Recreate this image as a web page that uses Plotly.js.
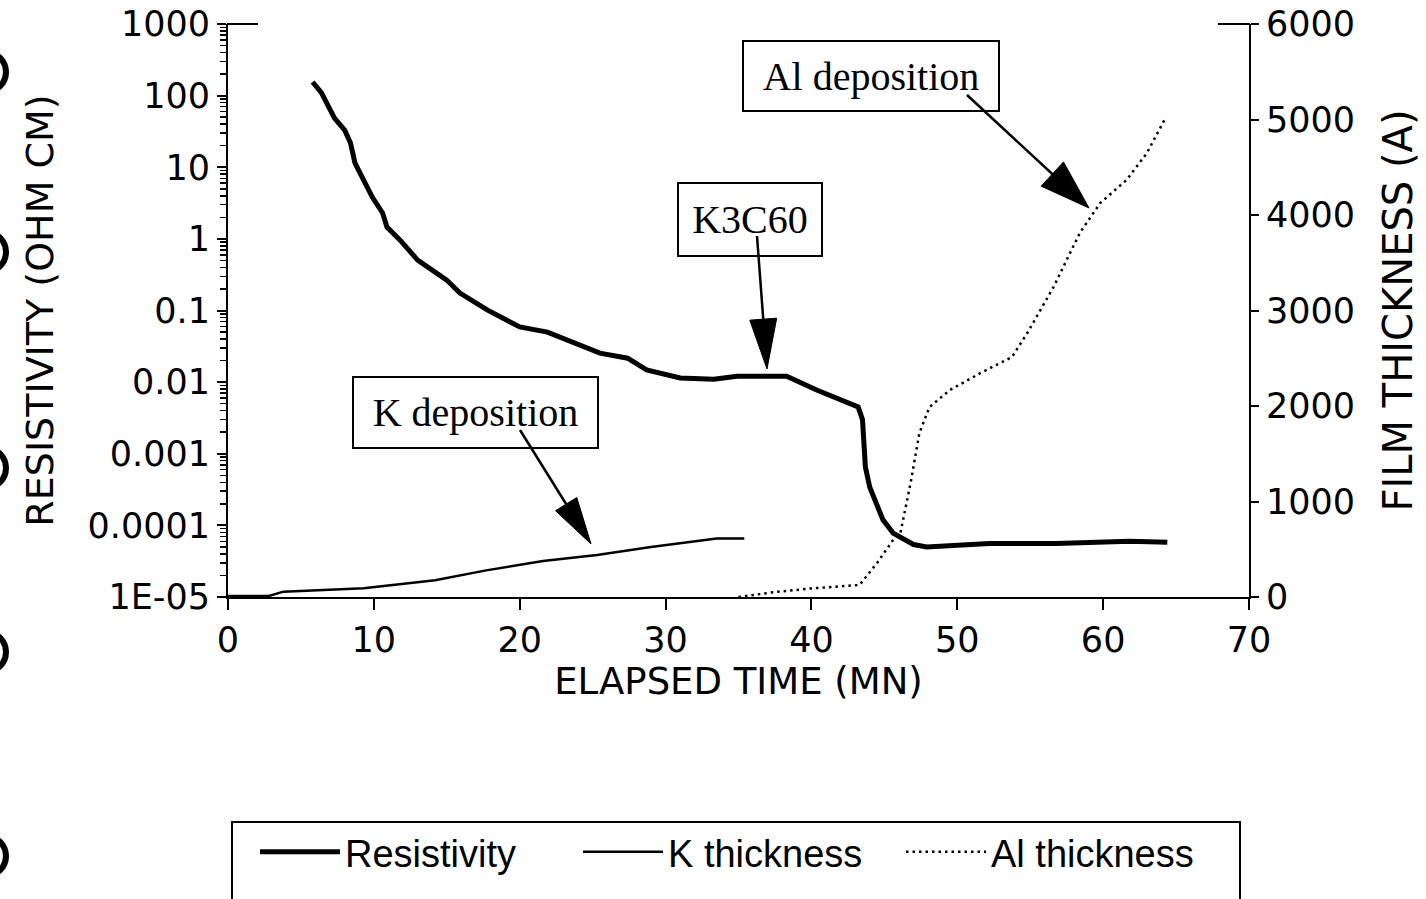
<!DOCTYPE html>
<html>
<head>
<meta charset="utf-8">
<script src="https://cdn.plot.ly/plotly-3.0.1.min.js"></script>
<style>html,body{margin:0;padding:0;background:#fff;}#chart{width:1426px;height:899px;}</style>
</head>
<body>
<div id="chart"></div>
<script>
// ---- data ----
const resTime = [5.8, 6.4, 7.3, 8.0, 8.4, 8.7, 9.3, 9.9, 10.6, 10.9, 11.8, 13.0, 15.0, 15.9, 17.8, 20.0, 21.9, 23.7, 25.5, 27.4, 28.7, 31.0, 33.3, 34.9, 38.3, 40.4, 43.2, 43.5, 43.7, 44.0, 44.9, 45.6, 47.0, 47.9, 52.2, 56.8, 61.8, 64.4];
const resistivity = [155, 110, 48.6, 33, 21.8, 11.5, 6.6, 3.8, 2.3, 1.46, 0.96, 0.506, 0.266, 0.175, 0.101, 0.059, 0.050, 0.036, 0.0254, 0.0216, 0.0148, 0.0114, 0.011, 0.0121, 0.0121, 0.0077, 0.0045, 0.003, 0.00065, 0.00034, 0.00012, 0.000078, 0.000054, 0.000050, 0.000056, 0.000056, 0.000060, 0.000058];

const kTime = [0, 2.8, 3.8, 9.3, 14.2, 17.7, 21.6, 25.3, 29.0, 31.5, 33.5, 35.4];
const kThickness = [10, 10, 56, 91, 175, 279, 377, 440, 523, 569, 612, 612];

const alTime = [35.0, 37.4, 40.0, 43.3, 44.5, 45.6, 46.1, 46.8, 47.4, 48.1, 49.5, 51.6, 53.75, 54.8, 56.6, 58.4, 59.8, 61.6, 63.0, 64.2];
const alThickness = [0, 50, 90, 126, 356, 597, 670, 1194, 1717, 1990, 2168, 2346, 2513, 2764, 3246, 3812, 4126, 4366, 4649, 4995];

const resTickVals = [1e-5, 1e-4, 1e-3, 1e-2, 0.1, 1, 10, 100, 1000];
const resTickText = ['1E-05', '0.0001', '0.001', '0.01', '0.1', '1', '10', '100', '1000'];
const seriesNames = ['Resistivity', 'K thickness', 'Al thickness'];

// ---- layout geometry ----
const W = 1426, H = 899;
const M = {l: 228, r: 177, t: 24, b: 302};
const PW = W - M.l - M.r, PH = H - M.t - M.b;
function px(x, y) { return [(x - M.l) / PW, (H - M.b - y) / PH]; }

const axisFont = {family: 'DejaVu Sans, Arial, sans-serif', size: 35, color: '#000'};
const serif = {family: 'Liberation Serif, Times New Roman, serif', size: 40, color: '#000'};

// arrows (line + long narrow filled head), pixel geometry
function arrow(tail, tip, len, wid) {
  const dx = tip[0] - tail[0], dy = tip[1] - tail[1];
  const d = Math.hypot(dx, dy), ux = dx / d, uy = dy / d;
  const bx = tip[0] - ux * len, by = tip[1] - uy * len;
  const nx = -uy, ny = ux;
  const a = px(bx + nx * wid / 2, by + ny * wid / 2);
  const b = px(bx - nx * wid / 2, by - ny * wid / 2);
  const t = px(tip[0], tip[1]);
  const s0 = px(tail[0], tail[1]);
  const s1 = px(bx + ux * 4, by + uy * 4);
  return [
    {type: 'line', xref: 'paper', yref: 'paper', x0: s0[0], y0: s0[1], x1: s1[0], y1: s1[1], line: {color: '#000', width: 2.5}},
    {type: 'path', xref: 'paper', yref: 'paper', path: `M ${a[0]} ${a[1]} L ${t[0]} ${t[1]} L ${b[0]} ${b[1]} Z`, fillcolor: '#000', line: {color: '#000', width: 1}}
  ];
}
function seg(x0, y0, x1, y1, w) {
  const a = px(x0, y0), b = px(x1, y1);
  return {type: 'line', xref: 'paper', yref: 'paper', x0: a[0], y0: a[1], x1: b[0], y1: b[1], line: {color: '#000', width: w}};
}

const shapes = [].concat(
  arrow([967, 95], [1089, 208], 50, 33),
  arrow([757, 236], [767, 369], 50, 27),
  arrow([520, 430], [591, 544], 47, 25)
);
// top end ticks of both vertical axes
shapes.push(seg(227, 24, 258, 24, 2));
shapes.push(seg(1218, 24, 1250, 24, 2));
shapes.push(seg(228, 597, 258, 597, 2));
// legend frame
const lf0 = px(232, 822), lf1 = px(1240, 940);
shapes.push({type: 'rect', xref: 'paper', yref: 'paper', x0: lf0[0], y0: lf0[1], x1: lf1[0], y1: lf1[1], line: {color: '#000', width: 2}});
// scan marks (binder holes) at the left edge of the page
[72, 252, 468, 652, 856].forEach(function (cy) {
  const a = px(-34, cy - 20), b = px(6, cy + 20);
  shapes.push({type: 'circle', xref: 'paper', yref: 'paper', x0: a[0], y0: a[1], x1: b[0], y1: b[1], line: {color: '#000', width: 6}});
});

const traces = [
  {x: resTime, y: resistivity, name: seriesNames[0], type: 'scatter', mode: 'lines', yaxis: 'y', line: {color: '#000', width: 5}},
  {x: kTime, y: kThickness, name: seriesNames[1], type: 'scatter', mode: 'lines', yaxis: 'y2', line: {color: '#000', width: 2.5}},
  {x: alTime, y: alThickness, name: seriesNames[2], type: 'scatter', mode: 'lines', yaxis: 'y2', line: {color: '#000', width: 2.5, dash: '2.5px,4px'}}
];

const annotations = [
  {xref: 'x', yref: 'y2', x: 44.08, y: 5455, text: 'Al deposition', showarrow: false, font: serif, bordercolor: '#000', borderwidth: 2, borderpad: 0, width: 254, height: 68},
  {xref: 'x', yref: 'y2', x: 35.79, y: 3948, text: 'K3C60', showarrow: false, font: serif, bordercolor: '#000', borderwidth: 2, borderpad: 0, width: 142, height: 71},
  {xref: 'x', yref: 'y2', x: 17.0, y: 1927, text: 'K deposition', showarrow: false, font: serif, bordercolor: '#000', borderwidth: 2, borderpad: 0, width: 243, height: 69}
];

const layout = {
  width: W, height: H,
  margin: M,
  paper_bgcolor: '#fff', plot_bgcolor: '#fff',
  showlegend: true,
  legend: {orientation: 'h', x: px(255, 0)[0], xanchor: 'left', y: px(0, 852)[1], yanchor: 'middle',
           font: {family: 'Liberation Sans, Arial, sans-serif', size: 38, color: '#000'},
           bgcolor: 'rgba(0,0,0,0)', borderwidth: 0, entrywidth: 228, entrywidthmode: 'pixels', itemwidth: 80},
  xaxis: {range: [0, 70], tickvals: [0, 10, 20, 30, 40, 50, 60, 70], ticks: 'outside', ticklen: 11, tickwidth: 2, tickcolor: '#000',
          showline: true, linewidth: 2, linecolor: '#000', showgrid: false, zeroline: false, tickfont: axisFont,
          title: {text: 'ELAPSED TIME (MN)', font: {family: 'DejaVu Sans, Arial, sans-serif', size: 37, color: '#000'}, standoff: 6}},
  yaxis: {type: 'log', range: [-5, 3], tickvals: resTickVals, ticktext: resTickText, ticks: 'outside', ticklen: 9, tickwidth: 2, tickcolor: '#000',
          minor: {ticks: 'outside', ticklen: 6, tickwidth: 1.5, tickcolor: '#000', dtick: 'D1', showgrid: false},
          showline: true, linewidth: 2, linecolor: '#000', showgrid: false, zeroline: false, tickfont: axisFont,
          title: {text: 'RESISTIVITY (OHM CM)', font: {family: 'DejaVu Sans, Arial, sans-serif', size: 38, color: '#000'}, standoff: 22}},
  yaxis2: {overlaying: 'y', side: 'right', range: [0, 6000], tickvals: [0, 1000, 2000, 3000, 4000, 5000, 6000], ticks: 'outside', ticklen: 8, tickwidth: 2, tickcolor: '#000',
           showline: true, linewidth: 2, linecolor: '#000', showgrid: false, zeroline: false, tickfont: axisFont,
           title: {text: 'FILM THICKNESS (A)', font: {family: 'DejaVu Sans, Arial, sans-serif', size: 40, color: '#000'}, standoff: 30}},
  shapes: shapes,
  annotations: annotations
};

Plotly.newPlot('chart', traces, layout, {displayModeBar: false, staticPlot: true});
</script>
</body>
</html>
